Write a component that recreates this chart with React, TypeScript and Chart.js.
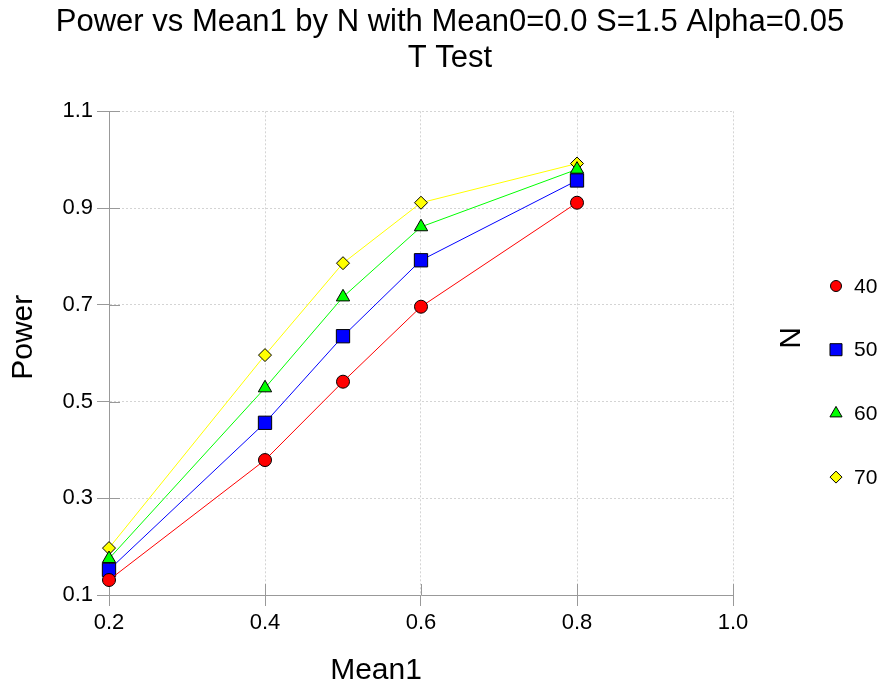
import React, { useEffect, useRef } from 'react';
import { Chart, registerables } from 'chart.js';
import { drawPoint } from 'chart.js/helpers';

Chart.register(...registerables);

// ---- data ----
const mean1 = [0.2, 0.4, 0.5, 0.6, 0.8];
const nLabels = ['40', '50', '60', '70'];
const power40 = [0.131, 0.379, 0.541, 0.696, 0.911];
const power50 = [0.152, 0.456, 0.635, 0.792, 0.957];
const power60 = [0.175, 0.528, 0.716, 0.861, 0.98];
const power70 = [0.197, 0.596, 0.786, 0.911, 0.992];
const xTicks = [0.2, 0.4, 0.6, 0.8, 1.0];
const yTicks = [0.1, 0.3, 0.5, 0.7, 0.9, 1.1];
const titleLines = ['Power vs Mean1 by N with Mean0=0.0 S=1.5 Alpha=0.05', 'T Test'];
const xTitle = 'Mean1';
const yTitle = 'Power';
const legendTitle = 'N';

// ---- styles ----
const FONT = '"Liberation Sans", Arial, sans-serif';
const seriesColors = ['#ff0000', '#0000ff', '#00ff00', '#ffff00'];
const seriesStyles = ['circle', 'rect', 'triangle', 'rectRot'];
const seriesRadius = [6.5, 9.4, 7.7, 6.5];
const legendRadius = [5.5, 8.5, 7, 6];
const seriesValues = [power40, power50, power60, power70];

const overlayPlugin = {
  id: 'overlay',
  beforeDatasetsDraw(chart: any) {
    const { ctx, chartArea, scales } = chart;
    ctx.save();
    ctx.strokeStyle = '#999999';
    ctx.lineWidth = 1;
    ctx.setLineDash([]);
    ctx.beginPath();
    for (const v of xTicks) {
      const px = Math.round(scales.x.getPixelForValue(v)) + 0.5;
      ctx.moveTo(px, chartArea.bottom);
      ctx.lineTo(px, chartArea.bottom - 11);
    }
    for (const v of yTicks) {
      const py = Math.round(scales.y.getPixelForValue(v)) + 0.5;
      ctx.moveTo(chartArea.left, py);
      ctx.lineTo(chartArea.left + 11, py);
    }
    ctx.stroke();
    ctx.restore();
  },
  afterDraw(chart: any) {
    const { ctx, chartArea } = chart;
    ctx.save();
    ctx.fillStyle = '#000';
    ctx.textBaseline = 'middle';
    ctx.textAlign = 'center';
    // axis titles
    ctx.font = `30px ${FONT}`;
    ctx.fillText(xTitle, chartArea.left + 267, 671);
    ctx.save();
    ctx.translate(24, chartArea.top + 226);
    ctx.rotate(-Math.PI / 2);
    ctx.fillText(yTitle, 0, 0);
    ctx.restore();
    // legend
    const lx = chartArea.right + 103;
    ctx.save();
    ctx.translate(chartArea.right + 59, 338);
    ctx.rotate(-Math.PI / 2);
    ctx.fillText(legendTitle, 0, 0);
    ctx.restore();
    ctx.font = `21px ${FONT}`;
    ctx.textAlign = 'left';
    chart.data.datasets.forEach((ds: any, i: number) => {
      const y = 286 + i * 63.7;
      ctx.fillStyle = ds.pointBackgroundColor;
      ctx.strokeStyle = '#000';
      ctx.lineWidth = 1;
      drawPoint(ctx, { pointStyle: ds.pointStyle, radius: legendRadius[i], rotation: 0, borderWidth: 1 }, lx, y);
      ctx.fillStyle = '#000';
      ctx.fillText(ds.label, lx + 18, y + 1);
    });
    ctx.restore();
  },
};

export default function App() {
  const ref = useRef<HTMLCanvasElement>(null);
  useEffect(() => {
    document.body.style.margin = '0';
    document.body.style.overflow = 'hidden';
    const datasets = nLabels.map((lab, i) => ({
      label: lab,
      data: mean1.map((x, j) => ({ x, y: seriesValues[i][j] })),
      borderColor: seriesColors[i],
      backgroundColor: seriesColors[i],
      pointBackgroundColor: seriesColors[i],
      pointBorderColor: '#000',
      pointBorderWidth: 1,
      pointStyle: seriesStyles[i],
      pointRadius: seriesRadius[i],
      borderWidth: 1,
      tension: 0,
      clip: false,
      fill: false,
    }));
    const tickFont = { family: FONT, size: 22 };
    const chart = new Chart(ref.current!, {
      type: 'line',
      data: { datasets },
      plugins: [overlayPlugin],
      options: {
        animation: false,
        responsive: false,
        maintainAspectRatio: false,
        layout: { padding: { left: 14, right: 0, top: 0, bottom: 0 } },
        plugins: {
          legend: { display: false },
          tooltip: { enabled: false },
          title: {
            display: true,
            text: titleLines,
            color: '#000',
            font: { family: FONT, size: 31, lineHeight: 1.15, weight: 'normal' },
            padding: { top: 5, bottom: 35 },
          },
        },
        scales: {
          x: {
            type: 'linear',
            min: 0.2,
            max: 1.0,
            afterBuildTicks: (s: any) => { s.ticks = xTicks.map((v) => ({ value: v })); },
            afterFit: (s: any) => { s.height = 88; },
            grid: { color: '#d4d4d4', tickColor: '#999999', tickLength: 11, lineWidth: 1 },
            border: { color: '#999999', width: 1, dash: [2, 2] },
            ticks: { font: tickFont, color: '#000', padding: 4, maxRotation: 0, autoSkip: false, callback: (v: any) => Number(v).toFixed(1) },
          },
          y: {
            type: 'linear',
            min: 0.1,
            max: 1.1,
            afterBuildTicks: (s: any) => { s.ticks = yTicks.map((v) => ({ value: v })); },
            afterFit: (s: any) => { s.width = 95; },
            grid: { color: '#d4d4d4', tickColor: '#999999', tickLength: 12, lineWidth: 1 },
            border: { color: '#999999', width: 1, dash: [2, 2] },
            ticks: { font: tickFont, color: '#000', padding: 4, autoSkip: false, callback: (v: any) => Number(v).toFixed(1) },
          },
          yr: {
            type: 'linear',
            position: 'right',
            display: true,
            grid: { display: false, drawTicks: false },
            border: { display: false },
            ticks: { display: false },
            afterFit: (s: any) => { s.width = 153; },
          },
        },
      } as any,
    });
    return () => chart.destroy();
  }, []);
  return <canvas ref={ref} width={886} height={683} style={{ display: 'block', width: 886, height: 683 }} />;
}
